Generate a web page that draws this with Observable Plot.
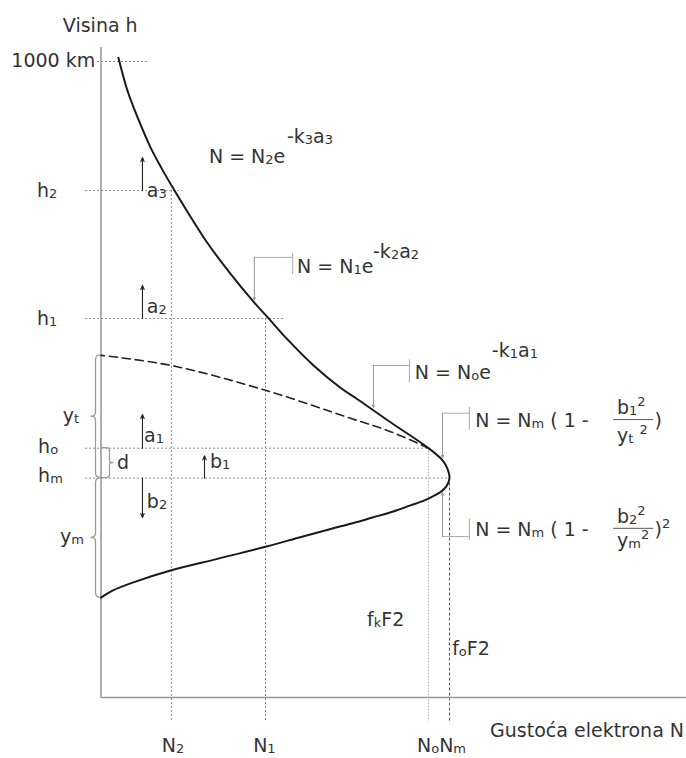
<!DOCTYPE html>
<html><head><meta charset="utf-8">
<script src="https://cdn.jsdelivr.net/npm/d3@7"></script>
<script src="https://cdn.jsdelivr.net/npm/@observablehq/plot@0.6"></script>
<style>body{margin:0;background:#fff} svg{display:block}</style>
</head><body><div id="chart"></div>
<script>
const FONT = "'DejaVu Sans', Verdana, sans-serif";

// Characteristic heights (km) and densities (Nm = 100)
const hTop = 1000, h2 = 797, h1 = 596, ho = 392, hm = 345;
const yt = 193, ym = 188;
const N2 = 20.2, N1 = 47.2, No = 94.0, Nm = 100;
const hAxisTop = 1022, nAxisEnd = 168;

// Electron density profile, top to bottom
const profileN = [5.0, 7.6, 10.5, 14.2, 17.6, 21.1, 30.0, 36.9, 43.8, 48.1, 53.5, 61.0, 68.7, 73.6, 82.2, 94.0, 98.0, 99.4, 100,
                  99.1, 97.4, 95.1, 92.8, 88.8, 83.6, 77.9, 72.2, 65.9, 57.2, 47.2, 33.4, 20.2, 9.3, 3.3, 0];
const profileH = [1006, 954, 912, 865, 830, 797, 719, 668, 622, 596, 563, 522, 487, 469, 436, 392, 373, 360, 345,
                  332, 323, 316, 310, 302, 292, 283, 274, 265, 252, 237, 218, 200, 181, 168, 157];

// Dashed continuation of the topside parabola
const dashedN = [94.0, 83.1, 71.6, 47.2, 20.2, 0];
const dashedH = [392, 418, 439, 483, 522, 538];

const profile = profileN.map((n, i) => ({n, h: profileH[i]}));
const dashed = dashedN.map((n, i) => ({n, h: dashedH[i]}));

// Dotted guide lines
const hGuides = [
  {h: hTop, x1: -1.0, x2: 13.6},
  {h: h2, x1: -4.4, x2: 23.4},
  {h: h1, x1: -4.4, x2: 52.4},
  {h: ho, x1: -4.4, x2: 94.5},
  {h: hm, x1: -4.4, x2: 100}
];
const guideBottom = -38;
const vGuides = [
  {n: N2, top: h2, kind: "a"},
  {n: N1, top: h1, kind: "a"},
  {n: No, top: ho, kind: "b"},
  {n: Nm, top: hm, kind: "c"}
];

// Arrows a1..a3, b1, b2
const arrows = [
  {x: 11.9, y1: h2, y2: 849},
  {x: 11.9, y1: h1, y2: 648},
  {x: 11.9, y1: ho, y2: 445},
  {x: 29.7, y1: hm, y2: 380},
  {x: 11.9, y1: hm, y2: 283}
];

// Formula call-outs
const leaders = [
  {xb: 55.0, yb1: 698, yb2: 665, yh: 692, xs: 44.0, ytip: 625},
  {xb: 88.5, yb1: 531, yb2: 495, yh: 522, xs: 78.2, ytip: 456},
  {xb: 105.7, yb1: 456, yb2: 420, yh: 447, xs: 98.0, ytip: 377},
  {xb: 105.7, yb1: 281, yb2: 247, yh: 253, xs: 98.0, ytip: 322}
];

const fracBars = [{h: 437, x1: 147.1, x2: 158.6}, {h: 266, x1: 147.1, x2: 158.6}];

// Texts: parts [text, kind]
const texts = [
  {x: -10.8, y: 1046, parts: [["Visina h"]]},
  {x: -1.5, y: 991, anchor: "end", parts: [["1000 km"]]},
  {x: -18.2, y: 786, parts: [["h"], ["2", "sub"]]},
  {x: -18.2, y: 585, parts: [["h"], ["1", "sub"]]},
  {x: -10.8, y: 432, parts: [["y"], ["t", "sub"]]},
  {x: -17.9, y: 383, parts: [["h"], ["o", "sub"]]},
  {x: -17.9, y: 338, parts: [["h"], ["m", "sub"]]},
  {x: 4.7, y: 358, parts: [["d"]]},
  {x: -11.6, y: 242, parts: [["y"], ["m", "sub"]]},
  {x: 13.3, y: 786, parts: [["a"], ["3", "sub"]]},
  {x: 13.3, y: 604, parts: [["a"], ["2", "sub"]]},
  {x: 12.5, y: 401, parts: [["a"], ["1", "sub"]]},
  {x: 31.4, y: 360, parts: [["b"], ["1", "sub"]]},
  {x: 13.3, y: 297, parts: [["b"], ["2", "sub"]]},
  {x: 31.1, y: 840, parts: [["N = N"], ["2", "sub"], ["e"]]},
  {x: 53.5, y: 871, parts: [["-k"], ["3", "sub"], ["a"], ["3", "sub"]]},
  {x: 56.4, y: 667, parts: [["N = N"], ["1", "sub"], ["e"]]},
  {x: 78.2, y: 690, parts: [["-k"], ["2", "sub"], ["a"], ["2", "sub"]]},
  {x: 90.2, y: 500, parts: [["N = N"], ["o", "sub"], ["e"]]},
  {x: 112.3, y: 535, parts: [["-k"], ["1", "sub"], ["a"], ["1", "sub"]]},
  {x: 107.5, y: 425, parts: [["N = N"], ["m", "sub"], [" ( 1 - "]]},
  {x: 148.2, y: 445, parts: [["b"], ["1", "sub"], ["2", "sup"]]},
  {x: 148.2, y: 401, parts: [["y"], ["t", "sub"], [" "], ["2", "sup"]]},
  {x: 159.0, y: 425, parts: [[")"]]},
  {x: 107.5, y: 253, parts: [["N = N"], ["m", "sub"], [" ( 1 - "]]},
  {x: 148.2, y: 274, parts: [["b"], ["2", "sub"], ["2", "sup"]]},
  {x: 148.2, y: 236, parts: [["y"], ["m", "sub"], ["2", "sup"]]},
  {x: 159.0, y: 253, parts: [[")"], ["2", "sup"]]},
  {x: 76.5, y: 112, parts: [["f"], ["k", "sub"], ["F2"]]},
  {x: 100.9, y: 66, parts: [["f"], ["o", "sub"], ["F2"]]},
  {x: 111.8, y: -63, parts: [["Gustoća elektrona N"]]},
  {x: 17.6, y: -86.5, parts: [["N"], ["2", "sub"]]},
  {x: 43.8, y: -86.5, parts: [["N"], ["1", "sub"]]},
  {x: 90.8, y: -86.5, parts: [["N"], ["o", "sub"], ["N"], ["m", "sub"]]}
];

function richText(items) {
  return (index, scales) => {
    const g = d3.create("svg:g").attr("fill", "#333").attr("font-family", FONT).attr("font-size", 19);
    for (const it of items) {
      const t = g.append("text")
        .attr("x", scales.x(it.x)).attr("y", scales.y(it.y))
        .attr("text-anchor", it.anchor || "start");
      let off = 0;
      for (const [s, k] of it.parts) {
        const target = k === "sub" ? 1 : k === "sup" ? -8 : 0;
        const ts = t.append("tspan").attr("dy", target - off).text(s);
        if (k) ts.attr("font-size", 13);
        off = target;
      }
    }
    return g.node();
  };
}

function braces() {
  return (index, {x, y}) => {
    const g = d3.create("svg:g").attr("fill", "none").attr("stroke", "#999").attr("stroke-width", 1.3);
    const x0 = x(0);
    const left = (ya, yb) => {
      const ym_ = (ya + yb) / 2, s = x0 - 5, tip = x0 - 10;
      return `M${x0},${ya} Q${s},${ya} ${s},${ya + 5} L${s},${ym_ - 4} Q${s},${ym_} ${tip},${ym_} Q${s},${ym_} ${s},${ym_ + 4} L${s},${yb - 5} Q${s},${yb} ${x0},${yb}`;
    };
    const right = (ya, yb) => {
      const ym_ = (ya + yb) / 2, s = x0 + 9, tip = x0 + 13;
      return `M${x0},${ya} L${s - 3},${ya} Q${s},${ya} ${s},${ya + 3} L${s},${ym_ - 2} Q${s},${ym_} ${tip},${ym_} Q${s},${ym_} ${s},${ym_ + 2} L${s},${yb - 3} Q${s},${yb} ${s - 3},${yb} L${x0},${yb}`;
    };
    g.append("path").attr("d", left(y(hm + yt), y(hm)));
    g.append("path").attr("d", left(y(hm), y(hm - ym)));
    g.append("path").attr("d", right(y(ho), y(hm)));
    return g.node();
  };
}

const chart = Plot.plot({
  width: 686,
  height: 758,
  margin: 0,
  x: {domain: [0, 100], range: [100.5, 449], axis: null},
  y: {domain: [0, 1000], range: [697, 61], axis: null},
  style: {background: "#fff", fontFamily: FONT, overflow: "visible"},
  marks: [
    // guides
    Plot.ruleY(hGuides, {y: "h", x1: "x1", x2: "x2", stroke: "#888", strokeWidth: 1, strokeDasharray: "2,2"}),
    Plot.ruleX(vGuides.filter(d => d.kind === "a"), {x: "n", y1: "top", y2: guideBottom, stroke: "#888", strokeWidth: 1, strokeDasharray: "2,2"}),
    Plot.ruleX(vGuides.filter(d => d.kind === "b"), {x: "n", y1: "top", y2: guideBottom, stroke: "#aaa", strokeWidth: 1, strokeDasharray: "1.5,1.5"}),
    Plot.ruleX(vGuides.filter(d => d.kind === "c"), {x: "n", y1: "top", y2: guideBottom, stroke: "#555", strokeWidth: 1, strokeDasharray: "3,2"}),
    // axes
    Plot.ruleX([{x: 0, y1: 0, y2: hAxisTop}], {x: "x", y1: "y1", y2: "y2", stroke: "#999", strokeWidth: 1.6}),
    Plot.ruleY([{y: 0, x1: 0, x2: nAxisEnd}], {y: "y", x1: "x1", x2: "x2", stroke: "#999", strokeWidth: 1.6}),
    braces(),
    // leaders
    Plot.ruleX(leaders, {x: "xb", y1: "yb1", y2: "yb2", stroke: "#aaa", strokeWidth: 1}),
    Plot.ruleY(leaders, {y: "yh", x1: "xs", x2: "xb", stroke: "#aaa", strokeWidth: 1}),
    Plot.arrow(leaders, {x1: "xs", y1: "yh", x2: "xs", y2: "ytip", stroke: "#999", strokeWidth: 1, headLength: 4, headAngle: 50}),
    // curves
    Plot.line(dashed, {x: "n", y: "h", curve: "catmull-rom", stroke: "#222", strokeWidth: 1.6, strokeDasharray: "8,5"}),
    Plot.line(profile, {x: "n", y: "h", curve: "catmull-rom", stroke: "#1a1a1a", strokeWidth: 2}),
    // arrows
    Plot.arrow(arrows, {x1: "x", y1: "y1", x2: "x", y2: "y2", stroke: "#222", strokeWidth: 1.1, headLength: 6, headAngle: 45}),
    Plot.ruleY(fracBars, {y: "h", x1: "x1", x2: "x2", stroke: "#555", strokeWidth: 1}),
    richText(texts)
  ]
});
document.getElementById("chart").append(chart);
</script>
</body></html>
